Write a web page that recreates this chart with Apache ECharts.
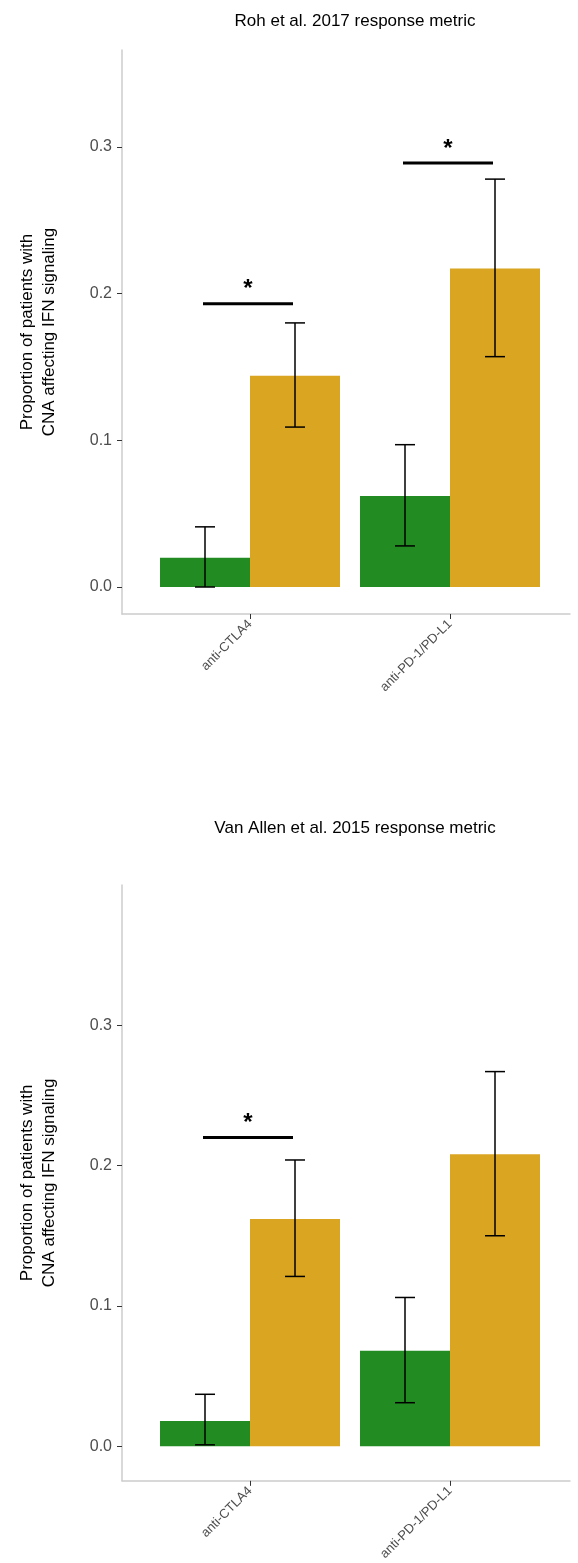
<!DOCTYPE html>
<html>
<head>
<meta charset="utf-8">
<script src="https://cdn.jsdelivr.net/npm/echarts@6/dist/echarts.min.js"></script>
<style>html,body{margin:0;background:#fff}#chart{width:578px;height:1563px}</style>
</head>
<body>
<div id="chart"></div>
<script>
var categories = ["anti-CTLA4", "anti-PD-1/PD-L1"]
var titles = ["Roh et al. 2017 response metric", "Van Allen et al. 2015 response metric"]
var yTicks = [0, 0.1, 0.2, 0.3]
// per panel: [green, gold] values and errors
var greenVals = [[0.020, 0.062], [0.018, 0.068]]
var goldVals = [[0.144, 0.217], [0.162, 0.208]]
var greenErr = [[[0, 0.041], [0.028, 0.097]], [[0.001, 0.037], [0.031, 0.106]]]
var goldErr = [[[0.109, 0.180], [0.157, 0.278]], [[0.121, 0.204], [0.150, 0.267]]]
// significance bars: [x1, x2, y]
var sigBars = [[[0.765, 1.215, 0.193], [1.765, 2.215, 0.289]], [[0.765, 1.215, 0.220]]]

var grids = [
    {left: 122, right: 8, top: 50, height: 564},
    {left: 122, right: 8, top: 885, height: 618}
]
var yRanges = [[-0.0184, 0.366], [-0.0247, 0.400]]
var titleTops = [8, 815]

var option = {animation: false, title: [], grid: grids, xAxis: [], yAxis: [], series: []}

function errItem(params, api) {
    var x = api.value(0), lo = api.value(1), hi = api.value(2)
    var p1 = api.coord([x, lo]), p2 = api.coord([x, hi])
    var w = 10
    var st = {stroke: "#000", lineWidth: 1.5}
    return {type: "group", children: [
        {type: "line", shape: {x1: p1[0], y1: p1[1], x2: p2[0], y2: p2[1]}, style: st},
        {type: "line", shape: {x1: p1[0] - w, y1: p1[1], x2: p1[0] + w, y2: p1[1]}, style: st},
        {type: "line", shape: {x1: p2[0] - w, y1: p2[1], x2: p2[0] + w, y2: p2[1]}, style: st}
    ]}
}

function sigItem(params, api) {
    var a = api.coord([api.value(0), api.value(2)]), b = api.coord([api.value(1), api.value(2)])
    return {type: "group", children: [
        {type: "line", shape: {x1: a[0], y1: a[1], x2: b[0], y2: b[1]}, style: {stroke: "#000", lineWidth: 3}},
        {type: "text", x: (a[0] + b[0]) / 2, y: a[1] - 2, style: {text: "*", fontSize: 24, fontWeight: "bold", fill: "#000", align: "center", verticalAlign: "bottom"}}
    ]}
}

for (var i = 0; i < 2; i++) {
    option.title.push({text: titles[i], left: 350, textAlign: "center", top: titleTops[i],
        textStyle: {fontSize: 17, fontWeight: "normal", color: "#000", fontFamily: "Liberation Sans"}})
    option.xAxis.push({gridIndex: i, type: "value", min: 0.36, max: 2.6,
        splitLine: {show: false},
        axisLine: {onZero: false, lineStyle: {color: "#cccccc", width: 1.5}},
        axisTick: {show: true, customValues: [1, 2], length: 5, lineStyle: {color: "#333"}},
        axisLabel: {customValues: [1, 2], rotate: 45, fontSize: 13, color: "#4d4d4d", margin: 8,
            formatter: function (v) { return categories[Math.round(v) - 1] }}})
    option.yAxis.push({gridIndex: i, type: "value", min: yRanges[i][0], max: yRanges[i][1],
        splitLine: {show: false},
        axisLine: {show: true, onZero: false, lineStyle: {color: "#cccccc", width: 1.5}},
        axisTick: {show: true, customValues: yTicks, length: 5, lineStyle: {color: "#333"}},
        axisLabel: {customValues: yTicks, fontSize: 16, color: "#4d4d4d", margin: 10,
            formatter: function (v) { return v.toFixed(1) }},
        name: "Proportion of patients with\nCNA affecting IFN signaling",
        nameLocation: "middle", nameGap: 62, nameRotate: 90,
        nameTextStyle: {fontSize: 17, color: "#000", lineHeight: 22}})
    option.series.push({type: "bar", xAxisIndex: i, yAxisIndex: i, barWidth: 90, barGap: "0%",
        itemStyle: {color: "#228B22"},
        data: greenVals[i].map(function (v, k) { return [k + 1, v] })})
    option.series.push({type: "bar", xAxisIndex: i, yAxisIndex: i, barWidth: 90, barGap: "0%",
        itemStyle: {color: "#DAA520"},
        data: goldVals[i].map(function (v, k) { return [k + 1, v] })})
    option.series.push({type: "custom", xAxisIndex: i, yAxisIndex: i, renderItem: errItem, z: 10,
        data: greenErr[i].map(function (e, k) { return [k + 1 - 0.225, e[0], e[1]] })
            .concat(goldErr[i].map(function (e, k) { return [k + 1 + 0.225, e[0], e[1]] }))})
    option.series.push({type: "custom", xAxisIndex: i, yAxisIndex: i, renderItem: sigItem, z: 10,
        data: sigBars[i]})
}

echarts.init(document.getElementById("chart")).setOption(option)
</script>
</body>
</html>
